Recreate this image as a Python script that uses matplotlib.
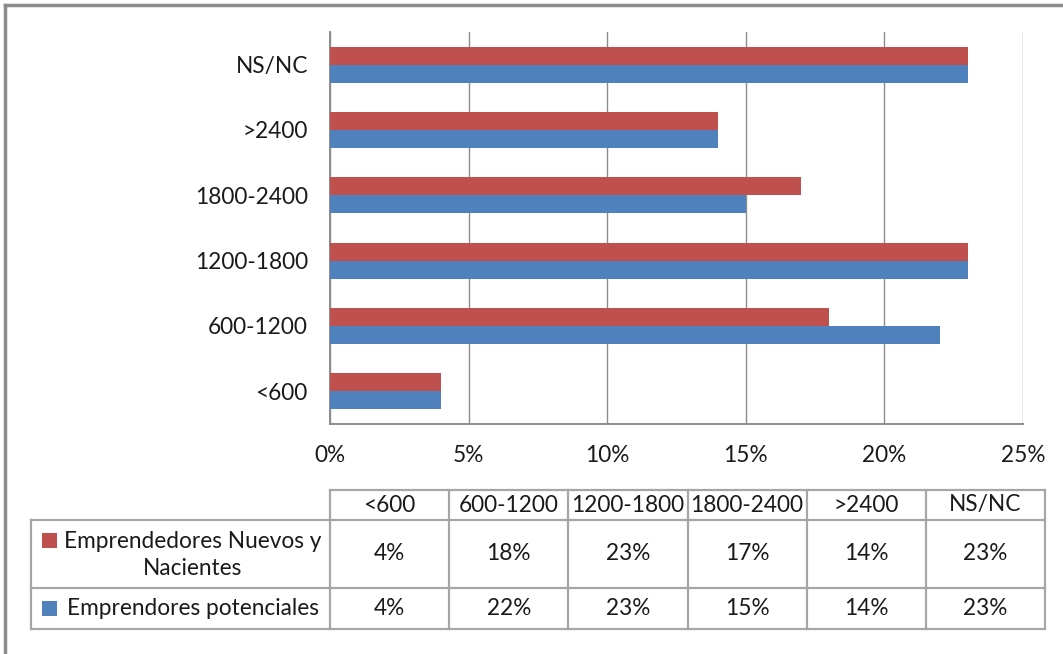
import matplotlib
matplotlib.use("Agg")
import matplotlib.pyplot as plt
from matplotlib.patches import Rectangle
from matplotlib.lines import Line2D
import numpy as np

# Income brackets (bottom to top on the chart) and the share for each group
categories = ["<600", "600-1200", "1200-1800", "1800-2400", ">2400", "NS/NC"]
nuevos = [4, 18, 23, 17, 14, 23]          # Emprendedores Nuevos y Nacientes (%)
potenciales = [4, 22, 23, 15, 14, 23]     # Emprendores potenciales (%)
series_names = ["Emprendedores Nuevos y\nNacientes", "Emprendores potenciales"]
x_ticks = [0, 5, 10, 15, 20, 25]

RED = "#C0504D"
BLUE = "#4F81BD"
GRID = "#8C8C8C"
TABLE_LINE = "#A6A6A6"
TEXT = "#1A1A1A"
FONT = "Lato"
FS = 16.3

W, H = 1063, 654
fig = plt.figure(figsize=(W / 100, H / 100), dpi=100)
fig.patch.set_facecolor("white")

def fx(px):
    return px / W

def fy(py):
    return 1 - py / H

# ---- bar chart ----
left, right, top, bottom = 330, 1023, 32, 424
ax = fig.add_axes([fx(left), fy(bottom), fx(right - left), (bottom - top) / H])
y = np.arange(len(categories))
h = 0.275
ax.barh(y - h / 2, potenciales, height=h, color=BLUE, zorder=3)
ax.barh(y + h / 2, nuevos, height=h, color=RED, zorder=3)
ax.set_xlim(0, 25)
ax.set_ylim(-0.5, len(categories) - 0.5)
ax.set_xticks(x_ticks)
ax.set_xticklabels([f"{t}%" for t in x_ticks], fontfamily=FONT, fontsize=FS, color=TEXT)
ax.set_yticks(y)
ax.set_yticklabels(categories, fontfamily=FONT, fontsize=FS, color=TEXT)
ax.tick_params(axis="x", length=0, pad=15)
ax.tick_params(axis="y", length=0, pad=16)
ax.xaxis.grid(True, color=GRID, linewidth=1.0, zorder=0)
ax.set_axisbelow(True)
for s in ["top", "right"]:
    ax.spines[s].set_visible(False)
for s in ["left", "bottom"]:
    ax.spines[s].set_color(GRID)
    ax.spines[s].set_linewidth(1.4)

# ---- data table underneath ----
tab = fig.add_axes([0, 0, 1, 1])
tab.set_xlim(0, W)
tab.set_ylim(H, 0)
tab.axis("off")

col_left = 330
col_w = (1045 - 330) / len(categories)
label_left = 31
rows_y = [490, 520, 588, 629]
lw = 1.6

def hline(x0, x1, yy):
    tab.add_line(Line2D([x0, x1], [yy, yy], color=TABLE_LINE, linewidth=lw))

def vline(xx, y0, y1):
    tab.add_line(Line2D([xx, xx], [y0, y1], color=TABLE_LINE, linewidth=lw))

x_end = col_left + col_w * len(categories)
hline(col_left, x_end, rows_y[0])
for yy in rows_y[1:]:
    hline(label_left, x_end, yy)
vline(label_left, rows_y[1], rows_y[3])
for i in range(len(categories) + 1):
    vline(col_left + i * col_w, rows_y[0], rows_y[3])

for i, cat in enumerate(categories):
    cx = col_left + (i + 0.5) * col_w
    tab.text(cx, (rows_y[0] + rows_y[1]) / 2, cat, ha="center", va="center",
             fontfamily=FONT, fontsize=FS, color=TEXT)
    tab.text(cx, (rows_y[1] + rows_y[2]) / 2, f"{nuevos[i]}%", ha="center", va="center",
             fontfamily=FONT, fontsize=FS, color=TEXT)
    tab.text(cx, (rows_y[2] + rows_y[3]) / 2, f"{potenciales[i]}%", ha="center", va="center",
             fontfamily=FONT, fontsize=FS, color=TEXT)

# row labels with colour keys
tab.add_patch(Rectangle((42, 533), 15, 15, facecolor=RED, edgecolor="none"))
tab.text(193, (rows_y[1] + rows_y[2]) / 2 + 1, series_names[0], ha="center", va="center",
         fontfamily=FONT, fontsize=FS, color=TEXT, linespacing=1.3)
tab.add_patch(Rectangle((42, 601), 15, 15, facecolor=BLUE, edgecolor="none"))
tab.text(193, (rows_y[2] + rows_y[3]) / 2, series_names[1], ha="center", va="center",
         fontfamily=FONT, fontsize=FS, color=TEXT)

# outer frame (top and left edges)
tab.add_line(Line2D([5, W], [5, 5], color="#8C8C8C", linewidth=2.5))
tab.add_line(Line2D([5, 5], [5, H], color="#8C8C8C", linewidth=2.5))

fig.savefig("out.png", dpi=100)
